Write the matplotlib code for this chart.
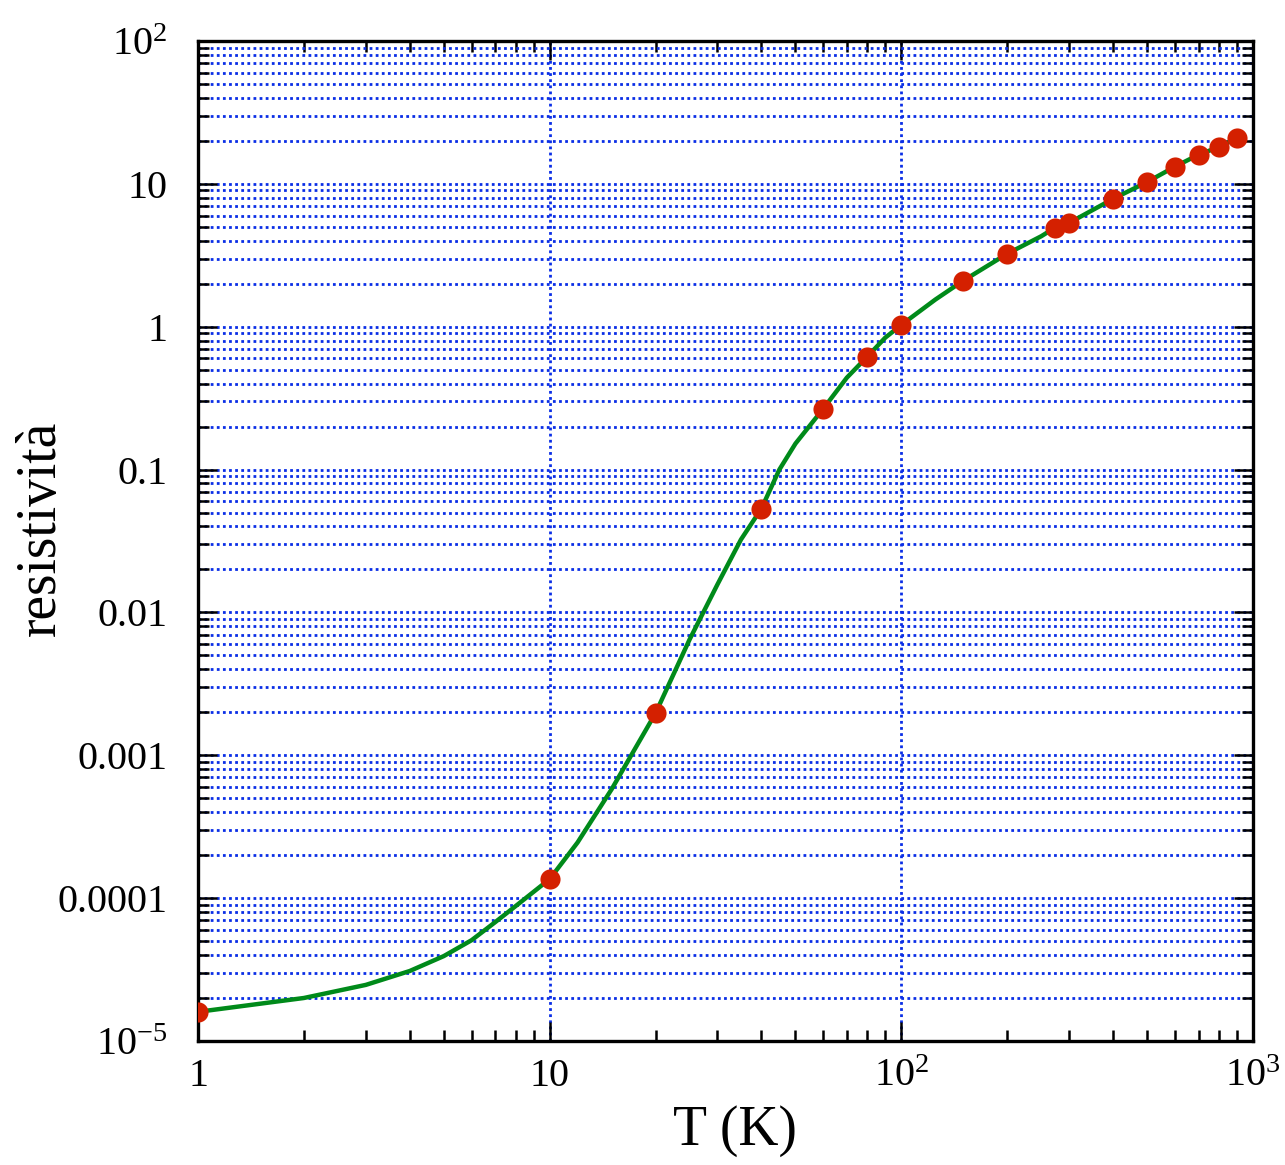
import matplotlib
matplotlib.use("Agg")
import matplotlib.pyplot as plt
from matplotlib.ticker import LogLocator, NullFormatter, FixedLocator, FixedFormatter

# ---- data ----
curve_T = [1, 2, 3, 4, 5, 6, 7, 8, 10, 12, 15, 20, 25, 30, 35, 40, 45, 50, 60, 70,
           80, 90, 100, 125, 150, 200, 250, 273, 300, 400, 500, 600, 700, 800, 900]
curve_rho = [1.6e-5, 2.0e-5, 2.47e-5, 3.09e-5, 3.93e-5, 5.08e-5, 6.79e-5, 8.79e-5,
             1.36e-4, 2.45e-4, 5.78e-4, 1.97e-3, 6.47e-3, 0.0157, 0.0324, 0.0533,
             0.1, 0.152, 0.267, 0.44, 0.617, 0.838, 1.03, 1.55, 2.1, 3.24, 4.3,
             4.92, 5.33, 7.85, 10.3, 13.2, 16.0, 18.1, 21.0]

point_T = [1, 10, 20, 40, 60, 80, 100, 150, 200, 273, 300, 400, 500, 600, 700, 800, 900]
point_rho = [1.6e-5, 1.36e-4, 1.97e-3, 0.0533, 0.267, 0.617, 1.03, 2.1, 3.24, 4.92,
             5.33, 7.85, 10.3, 13.2, 16.0, 18.1, 21.0]

x_ticks = [1, 10, 100, 1000]
x_ticklabels = ['1', '10', r'$\mathregular{10^{2}}$', r'$\mathregular{10^{3}}$']
y_ticks = [1e-5, 1e-4, 1e-3, 1e-2, 1e-1, 1, 10, 100]
y_ticklabels = [r'$\mathregular{10^{-5}}$', '0.0001', '0.001', '0.01', '0.1', '1', '10',
                r'$\mathregular{10^{2}}$']

x_label = 'T (K)'
y_label = 'resistività'

# ---- style ----
plt.rcParams['font.family'] = ['Liberation Serif', 'DejaVu Serif']
plt.rcParams['mathtext.fontset'] = 'custom'
plt.rcParams['mathtext.rm'] = 'Liberation Serif'

fig = plt.figure(figsize=(12.85, 11.65), dpi=100)
ax = fig.add_axes([198/1285, 1 - 1041/1165, (1253-198)/1285, (1041-41)/1165])

ax.set_xscale('log')
ax.set_yscale('log')
ax.set_xlim(1, 1000)
ax.set_ylim(1e-5, 100)

grid_color = '#0a2ee6'
ax.yaxis.grid(True, which='both', color=grid_color, linestyle=(0, (1, 1.2)), linewidth=2.0)
ax.xaxis.grid(True, which='major', color=grid_color, linestyle=(0, (1, 1.2)), linewidth=2.0)
ax.set_axisbelow(True)

ax.plot(curve_T, curve_rho, color='#008a1a', linewidth=3.2, zorder=3)
ax.plot(point_T, point_rho, linestyle='none', marker='o', markersize=14.5,
        color='#d42000', markeredgewidth=0, zorder=4)

ax.xaxis.set_major_locator(FixedLocator(x_ticks))
ax.xaxis.set_major_formatter(FixedFormatter(x_ticklabels))
ax.yaxis.set_major_locator(FixedLocator(y_ticks))
ax.yaxis.set_major_formatter(FixedFormatter(y_ticklabels))
ax.xaxis.set_minor_locator(LogLocator(base=10, subs=range(2, 10), numticks=20))
ax.yaxis.set_minor_locator(LogLocator(base=10, subs=range(2, 10), numticks=20))
ax.xaxis.set_minor_formatter(NullFormatter())
ax.yaxis.set_minor_formatter(NullFormatter())

ax.tick_params(which='both', direction='in', top=True, right=True, width=1.8, colors='black')
ax.tick_params(which='major', length=14)
ax.tick_params(which='minor', length=8)
ax.tick_params(axis='x', which='major', labelsize=29, pad=12)
ax.tick_params(axis='y', which='major', labelsize=29, pad=22)

for s in ax.spines.values():
    s.set_linewidth(2.4)

ax.set_xlabel(x_label, fontsize=40)
ax.set_ylabel(y_label, fontsize=40)
ax.xaxis.set_label_coords(0.509, -0.064)
ax.yaxis.set_label_coords(-0.124, 0.513)

fig.savefig('out.png', dpi=100)
